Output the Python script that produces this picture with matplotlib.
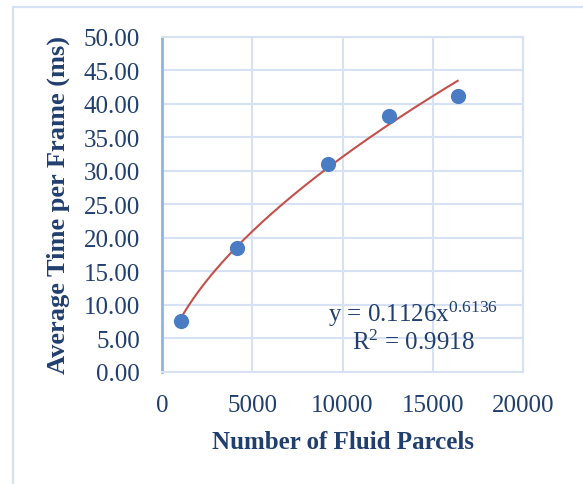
import numpy as np
import matplotlib
matplotlib.use('Agg')
import matplotlib.pyplot as plt
from matplotlib.patches import Rectangle

# data
parcels = [1040, 4140, 9210, 12550, 16380]
frame_ms = [7.6, 18.55, 31.05, 38.15, 41.13]

# power trendline coefficients as printed on the chart
coef_a = 0.1126
coef_b = 0.6136
r_squared = 0.9918

x_ticks = [0, 5000, 10000, 15000, 20000]
y_ticks = [0, 5, 10, 15, 20, 25, 30, 35, 40, 45, 50]

TEXT = '#213f6e'
GRID = '#d6e2f3'

plt.rcParams['font.family'] = ['Liberation Serif', 'DejaVu Serif']
plt.rcParams['mathtext.default'] = 'regular'

fig = plt.figure(figsize=(5.83, 4.85), dpi=100)
fig.patches.append(Rectangle((13 / 583, -0.1), 1.2, (485 - 8) / 485 + 0.1,
                             transform=fig.transFigure, fill=False,
                             edgecolor=GRID, linewidth=1.6))

ax = fig.add_axes([162 / 583, 112 / 485, 361 / 583, 335.5 / 485])

ax.set_xlim(0, 20000)
ax.set_ylim(0, 50)
ax.set_xticks(x_ticks)
ax.set_yticks(y_ticks)
ax.set_yticklabels(['{:.2f}'.format(v) for v in y_ticks])
ax.grid(True, color=GRID, linewidth=1.5)
ax.set_axisbelow(True)

for side in ['top', 'right', 'bottom']:
    ax.spines[side].set_color(GRID)
    ax.spines[side].set_linewidth(1.5)
ax.spines['left'].set_color('#8db3e2')
ax.spines['left'].set_linewidth(2)

ax.tick_params(length=0, labelsize=18, labelcolor=TEXT)
ax.tick_params(axis='y', pad=16)
ax.tick_params(axis='x', pad=16)

xs = np.linspace(min(parcels), max(parcels), 200)
ax.plot(xs, coef_a * xs ** coef_b, color='#c4504b', linewidth=1.5, zorder=2)
ax.scatter(parcels, frame_ms, s=120, color='#4a7cc4', zorder=3, linewidths=0)

ax.text(0.695, 0.175, 'y = {}x$^{{{}}}$'.format(coef_a, coef_b), transform=ax.transAxes,
        ha='center', va='center', fontsize=18, color=TEXT)
ax.text(0.695, 0.09, 'R$^{{2}}$ = {}'.format(r_squared), transform=ax.transAxes,
        ha='center', va='center', fontsize=18, color=TEXT)

ax.set_xlabel('Number of Fluid Parcels', fontsize=18, fontweight='bold', color=TEXT, labelpad=10)
ax.set_ylabel('Average Time per Frame (ms)', fontsize=19, fontweight='bold', color=TEXT, labelpad=10)

fig.savefig('out.png', dpi=100)
